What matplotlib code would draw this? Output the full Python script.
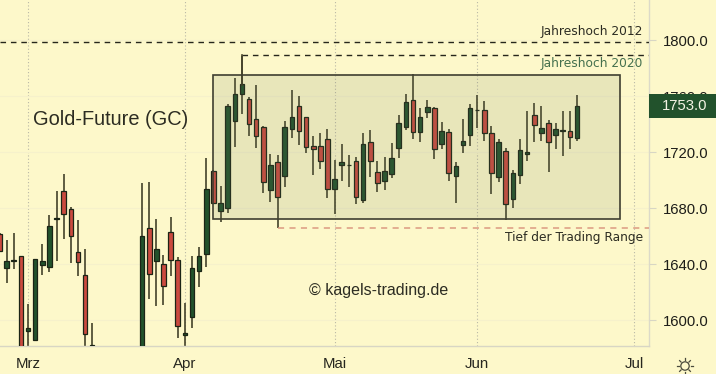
import numpy as np
import matplotlib
matplotlib.use("Agg")
import matplotlib.pyplot as plt
from matplotlib.patches import Rectangle

W, H = 716, 374
BG = "#fdf8ca"
UP = "#22522c"
DOWN = "#cb4a3f"
WICK = "#44422a"
DARK = "#23231a"
n = np.nan

# Tageskerzen, Luecke = Kurse unterhalb des sichtbaren Bereichs
opens = [1661.2, 1636.9, 1642.4, 1645.5, 1592.1, 1585.7, 1639.5, 1637.9, 1672.4, 1692.4, 1679.0, 1648.8, 1632.4, 1581.9,
         n, n, n, n, n, n,
         1570.0, 1665.5, 1642.4, 1639.8, 1663.1, 1642.9, 1589.0, 1601.9, 1635.2, 1647.1, 1706.7, 1678.1, 1680.2, 1742.1,
         1761.2, 1757.9, 1743.3, 1737.9, 1692.9, 1713.1, 1702.9, 1736.4, 1752.6, 1744.8, 1724.0, 1724.3, 1729.0, 1693.3,
         1711.0, 1710.5, 1713.6, 1685.7, 1726.9, 1705.5, 1699.5, 1704.5, 1722.9, 1738.1, 1757.1, 1734.5, 1748.8, 1751.7,
         1725.5, 1734.5, 1702.9, 1724.8, 1732.4, 1749.8, 1750.0, 1733.3, 1702.4, 1720.5, 1686.4, 1703.6, 1718.3, 1746.2,
         1733.6, 1740.5, 1732.1, 1735.0, 1735.2, 1729.8]
highs = [1662.0, 1657.1, 1661.9, 1645.5, 1611.4, 1643.8, 1654.0, 1675.0, 1692.4, 1704.0, 1681.0, 1671.4, 1650.7, 1597.6,
         n, n, n, n, n, n,
         1698.1, 1698.8, 1672.1, 1646.7, 1673.3, 1645.2, 1611.9, 1645.5, 1652.4, 1715.5, 1707.0, 1695.7, 1754.0, 1772.6,
         1788.8, 1759.5, 1767.9, 1738.6, 1718.3, 1717.9, 1742.1, 1764.3, 1760.0, 1745.2, 1731.7, 1733.3, 1736.4, 1714.3,
         1725.7, 1717.6, 1716.2, 1733.3, 1735.5, 1713.6, 1716.7, 1726.7, 1746.4, 1761.2, 1775.5, 1751.2, 1757.1, 1751.9,
         1741.7, 1736.4, 1712.6, 1743.6, 1754.0, 1760.7, 1756.7, 1738.6, 1729.0, 1722.6, 1707.1, 1729.0, 1749.3, 1755.2,
         1752.9, 1742.9, 1741.0, 1749.3, 1749.3, 1760.7]
lows = [1649.0, 1626.2, 1636.4, 1560.0, 1570.0, 1585.0, 1632.1, 1634.5, 1642.1, 1657.6, 1640.5, 1631.7, 1575.0, 1570.0,
        n, n, n, n, n, n,
        1560.0, 1614.8, 1610.2, 1610.7, 1631.4, 1587.4, 1575.0, 1594.5, 1623.8, 1637.6, 1683.0, 1670.2, 1676.2, 1723.8,
        1746.9, 1731.4, 1722.6, 1690.9, 1684.5, 1666.0, 1694.8, 1730.2, 1725.0, 1719.5, 1703.6, 1707.6, 1686.9, 1675.5,
        1699.5, 1694.8, 1682.6, 1683.8, 1702.4, 1691.7, 1692.9, 1701.2, 1715.5, 1735.7, 1729.0, 1726.9, 1744.0, 1714.8,
        1722.1, 1699.5, 1683.8, 1719.5, 1724.5, 1736.9, 1727.9, 1689.8, 1698.3, 1671.4, 1680.2, 1697.1, 1713.8, 1727.1,
        1728.1, 1706.0, 1721.9, 1717.1, 1722.1, 1728.1]
closes = [1649.5, 1642.4, 1642.4, 1570.0, 1594.0, 1643.8, 1642.4, 1667.4, 1672.4, 1675.5, 1660.0, 1641.7, 1589.8, 1578.0,
          n, n, n, n, n, n,
          1660.2, 1632.9, 1650.5, 1624.5, 1642.9, 1596.0, 1590.7, 1636.9, 1645.5, 1693.3, 1683.8, 1683.8, 1752.6, 1761.2,
          1768.6, 1740.0, 1731.4, 1698.6, 1710.7, 1687.6, 1737.9, 1745.2, 1735.2, 1723.6, 1721.9, 1713.3, 1693.8, 1700.5,
          1712.9, 1710.5, 1688.1, 1725.5, 1713.6, 1697.9, 1706.2, 1716.0, 1740.5, 1756.0, 1734.3, 1745.2, 1751.9, 1721.9,
          1735.2, 1705.2, 1710.2, 1728.1, 1751.7, 1749.8, 1733.8, 1704.8, 1726.9, 1682.9, 1704.8, 1721.7, 1720.2, 1739.5,
          1736.9, 1726.9, 1736.2, 1735.0, 1731.0, 1752.6]

month_pos = [4, 26, 47, 67, 89]
month_labels = ["Mrz", "Apr", "Mai", "Jun", "Jul"]
price_ticks = [1600, 1640, 1680, 1720, 1760, 1800]
last_price = 1753.0

fig = plt.figure(figsize=(W / 100, H / 100), dpi=100, facecolor=BG)
plt.rcParams["font.family"] = "Liberation Sans"

# Pixel -> Achsen: x = -0.5 + 7.13 * i, 1.4 px je Punkt, 1800 bei y = 40
ax = fig.add_axes([0, 1 - 346 / H, 649 / W, 346 / H], facecolor=BG)
ax.set_xlim(0.5 / 7.13, 649.5 / 7.13)
ax.set_ylim(1800 - 306 / 1.4, 1800 + 40 / 1.4)
for s in ["top", "left"]:
    ax.spines[s].set_visible(False)
ax.spines["right"].set_color("#dcdac8")
ax.spines["bottom"].set_color("#d8d6c4")
ax.spines["right"].set_linewidth(1.0)
ax.spines["bottom"].set_linewidth(1.0)

ax.yaxis.tick_right()
ax.set_yticks(price_ticks, [f"{p:.1f}" for p in price_ticks], fontsize=10.7, color="#1d1d18")
ax.set_xticks(month_pos, month_labels, fontsize=10.8, color="#26261f")
ax.tick_params(axis="y", length=5, width=0.8, color="#d8d6c4", pad=5)
ax.tick_params(axis="x", length=0, pad=8)
ax.grid(axis="x", color="#b9b8a6", lw=0.8, ls=(0, (1, 2)))
ax.grid(axis="y", color="#f6f1cb", lw=0.8)
ax.set_axisbelow(True)

x = np.arange(len(opens))
o, h, l, c = map(np.array, (opens, highs, lows, closes))
colors = [UP if b >= a else DOWN for a, b in zip(o, c)]
ax.vlines(x, l, h, color=WICK, lw=1.2, zorder=2)
ax.bar(x, np.maximum(np.abs(c - o), 0.5), bottom=np.minimum(o, c), width=0.64,
       color=colors, edgecolor="#1b2415", linewidth=0.9, zorder=3)

# Trading Range und Marken
ax.add_patch(Rectangle((30, 1671.8), 57, 103.2, fc="#6e7a5c", alpha=0.14, ec="none", zorder=4))
ax.add_patch(Rectangle((30, 1671.8), 57, 103.2, fc="none", ec="#3f3f30", lw=1.2, zorder=5))
ax.plot([0.07, 91.1], [1798.6, 1798.6], color="#26261c", lw=1.0, ls=(0, (4, 3.5)), zorder=4)
ax.plot([34, 91.1], [1789.3, 1789.3], color="#26261c", lw=1.0, ls=(0, (4, 3.5)), zorder=4)
ax.plot([34, 34], [1768, 1789.3], color=WICK, lw=1.2, zorder=4)
ax.plot([39, 91.1], [1665.7, 1665.7], color="#dc9a80", lw=1.1, ls=(0, (4, 3.5)), zorder=4)

def px_text(px, py, s, **kw):
    fig.text(px / W, 1 - py / H, s, va="center", **kw)

px_text(643, 32, "Jahreshoch 2012", ha="right", family="DejaVu Sans", fontsize=8.8, color="#2c2c22")
px_text(643, 64, "Jahreshoch 2020", ha="right", family="DejaVu Sans", fontsize=8.8, color="#44704e", zorder=6)
px_text(643, 237, "Tief der Trading Range", ha="right", family="DejaVu Sans", fontsize=8.8, color="#2c2c22")
px_text(33, 120, "Gold-Future (GC)", ha="left", fontsize=14.4, color="#2c2c22")
px_text(309, 290, "© kagels-trading.de", ha="left", fontsize=11.5, color="#2c2c22")

# Kursmarke rechts
fig.patches.append(Rectangle((649 / W, 1 - 118 / H), 67 / W, 24 / H, transform=fig.transFigure,
                             fc=UP, ec="none", zorder=7))
px_text(684.5, 105.5, f"{last_price:.1f}", ha="center", fontsize=10.7, color="#f4f4e4", zorder=8)

# Sonne unten rechts
sun = fig.add_axes([675 / W, 1 - 376 / H, 20 / W, 20 / H])
sun.set_xlim(-10, 10); sun.set_ylim(-10, 10); sun.axis("off")
sun.add_patch(plt.Circle((0, 0), 4.2, fc="none", ec="#4a4a3c", lw=0.9))
for a in np.arange(0, 2 * np.pi, np.pi / 4):
    sun.plot([5.6 * np.cos(a), 7.6 * np.cos(a)], [5.6 * np.sin(a), 7.6 * np.sin(a)], color="#4a4a3c", lw=0.9)

fig.savefig("out.png", dpi=100, facecolor=BG)
